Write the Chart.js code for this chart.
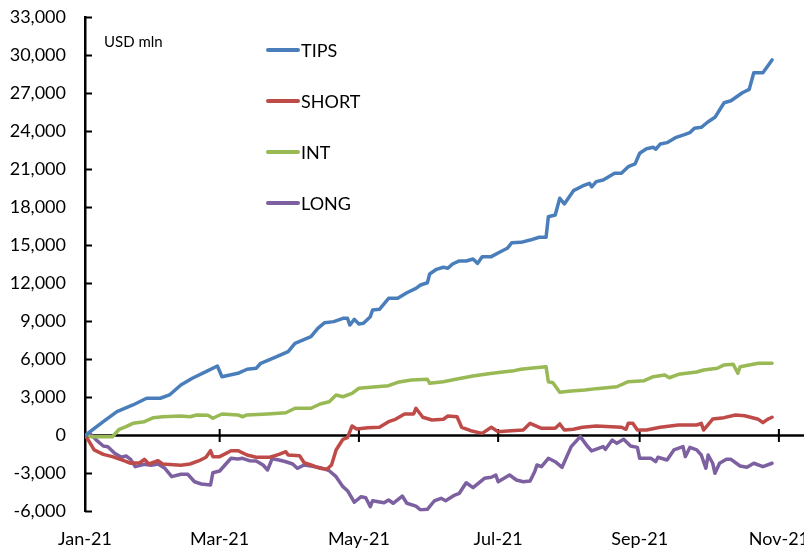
<!DOCTYPE html>
<html>
<head>
<meta charset="utf-8">
<script src="https://cdn.jsdelivr.net/npm/chart.js@4.4.1/dist/chart.umd.min.js"></script>
<style>
  html, body { margin: 0; padding: 0; background: #fff; }
  #wrap { width: 804px; height: 550px; position: relative; }
</style>
</head>
<body>
<div id="wrap"><canvas id="flowChart"></canvas></div>
<script>
// days counted from 1 Jan 2021
const tickDays = [0, 59, 120, 181, 243, 304];
const tickLabels = ['Jan-21', 'Mar-21', 'May-21', 'Jul-21', 'Sep-21', 'Nov-21'];

const tipsDays = [0, 8, 14, 21, 27, 33, 37, 42, 47, 53, 58, 60, 67, 71, 75, 77, 84, 89, 92, 99, 102, 105, 109, 113, 115, 116, 118, 120, 122, 125, 126, 129, 133, 137, 141, 145, 147, 150, 151, 154, 157, 159, 161, 164, 167, 170, 172, 174, 178, 182, 185, 187, 191, 195, 199, 202, 203, 206, 208, 210, 214, 218, 221, 222, 224, 227, 230, 232, 235, 238, 241, 243, 246, 249, 250, 252, 255, 259, 262, 265, 267, 270, 273, 276, 278, 280, 283, 288, 291, 293, 297, 301];
const tipsValues = [0, 1090, 1880, 2410, 2940, 2940, 3200, 3990, 4520, 5040, 5490, 4640, 4910, 5230, 5310, 5700, 6220, 6620, 7280, 7800, 8460, 8910, 8990, 9250, 9250, 8720, 9170, 8800, 8860, 9380, 9910, 9960, 10830, 10830, 11270, 11620, 11880, 12060, 12750, 13120, 13280, 13200, 13540, 13780, 13780, 13930, 13590, 14120, 14120, 14510, 14780, 15220, 15250, 15430, 15650, 15650, 17270, 17410, 18730, 18280, 19330, 19700, 19910, 19640, 20040, 20170, 20490, 20700, 20700, 21220, 21440, 22280, 22640, 22750, 22600, 23010, 23120, 23540, 23720, 23910, 24250, 24330, 24770, 25120, 25700, 26270, 26430, 27060, 27330, 28640, 28640, 29650];

const shortDays = [0, 1, 4, 8, 12, 17, 20, 24, 26, 28, 32, 34, 42, 46, 50, 53, 55, 56, 59, 64, 67, 71, 75, 81, 85, 88, 89, 94, 96, 99, 103, 106, 108, 110, 113, 115, 117, 119, 124, 129, 133, 136, 140, 144, 145, 148, 152, 157, 159, 163, 165, 169, 174, 178, 181, 185, 192, 195, 200, 206, 208, 210, 214, 218, 224, 235, 237, 238, 240, 242, 246, 252, 260, 268, 270, 271, 275, 280, 285, 289, 295, 297, 299, 301];
const shortValues = [0, -220, -1140, -1490, -1670, -1990, -2190, -2150, -1880, -2250, -1990, -2250, -2350, -2250, -1990, -1720, -1200, -1670, -1670, -1200, -1200, -1540, -1720, -1720, -1490, -1280, -1540, -1590, -2150, -2330, -2590, -2670, -2330, -1140, -300, -170, 750, 510, 620, 650, 1090, 1280, 1700, 1700, 2150, 1440, 1220, 1280, 1540, 1480, 650, 380, 170, 650, 300, 350, 430, 960, 570, 570, 910, 430, 490, 650, 750, 650, 490, 960, 960, 430, 430, 650, 830, 830, 960, 430, 1300, 1410, 1620, 1560, 1280, 1010, 1280, 1440];

const intDays = [0, 3, 12, 15, 18, 21, 26, 30, 34, 42, 46, 49, 54, 56, 60, 67, 69, 71, 80, 88, 92, 99, 103, 107, 110, 113, 117, 120, 125, 133, 137, 143, 150, 151, 157, 163, 170, 176, 182, 188, 191, 195, 202, 203, 205, 208, 213, 219, 224, 233, 238, 245, 249, 254, 256, 260, 268, 271, 277, 280, 284, 286, 287, 295, 301];
const intValues = [0, -100, -100, 490, 700, 960, 1090, 1410, 1480, 1540, 1480, 1620, 1590, 1360, 1700, 1620, 1480, 1620, 1700, 1800, 2150, 2150, 2490, 2670, 3200, 3060, 3330, 3730, 3800, 3930, 4200, 4380, 4440, 4120, 4250, 4460, 4700, 4860, 4990, 5120, 5230, 5310, 5430, 4250, 4170, 3410, 3510, 3590, 3700, 3850, 4250, 4330, 4640, 4780, 4560, 4830, 5010, 5170, 5310, 5570, 5620, 4910, 5430, 5700, 5700];

const longDays = [0, 2, 5, 8, 10, 13, 16, 18, 20, 22, 26, 29, 32, 35, 38, 42, 45, 48, 51, 55, 56, 59, 62, 64, 67, 69, 72, 75, 78, 80, 82, 85, 88, 91, 93, 96, 99, 103, 107, 110, 113, 115, 118, 121, 123, 125, 126, 131, 133, 135, 139, 141, 145, 147, 150, 153, 156, 158, 162, 164, 167, 170, 175, 178, 180, 181, 186, 189, 192, 195, 197, 198, 200, 203, 206, 209, 213, 217, 220, 222, 227, 228, 231, 233, 236, 239, 242, 243, 248, 250, 251, 255, 258, 262, 263, 265, 268, 270, 272, 273, 275, 276, 278, 281, 283, 287, 290, 293, 297, 301];
const longValues = [0, 170, -360, -830, -880, -1410, -1720, -1620, -1880, -2460, -2270, -2350, -2250, -2590, -3250, -3060, -3060, -3650, -3830, -3910, -2940, -2800, -2190, -1800, -1860, -1800, -1990, -2010, -2330, -2720, -1830, -1930, -2070, -2250, -2590, -2330, -2410, -2540, -2780, -3250, -4040, -4360, -5270, -4830, -4910, -5620, -5150, -5310, -5090, -5350, -4780, -5350, -5570, -5880, -5830, -5170, -4960, -5150, -4700, -4560, -3730, -4120, -3380, -3300, -3120, -3650, -3120, -3510, -3650, -3600, -2860, -2330, -2460, -1800, -2070, -2510, -880, -90, -830, -1220, -880, -1090, -360, -620, -300, -830, -940, -1800, -1800, -2070, -1720, -1930, -1140, -880, -1670, -940, -1140, -1540, -2590, -1540, -2190, -2980, -2190, -1880, -1880, -2410, -2510, -2190, -2460, -2190];

function toPoints(days, values) {
    return days.map((d, i) => ({ x: d, y: values[i] }));
}

Chart.defaults.font.family = 'Lato';
Chart.defaults.font.size = 18;
Chart.defaults.color = '#000';

const axesPlugin = {
    id: 'axesPlugin',
    beforeDatasetsDraw(chart) {
        const { ctx, chartArea, scales } = chart;
        const y0 = scales.y.getPixelForValue(0);
        ctx.save();
        ctx.strokeStyle = '#000';
        ctx.lineWidth = 2.5;
        ctx.beginPath();
        ctx.moveTo(chartArea.left, y0);
        ctx.lineTo(chartArea.right, y0);
        ctx.stroke();
        ctx.lineWidth = 2;
        ctx.beginPath();
        tickDays.forEach(d => {
            const px = scales.x.getPixelForValue(d);
            if (d === 0) return;
            ctx.moveTo(px, y0 - 6.5);
            ctx.lineTo(px, y0 + 6.5);
        });
        scales.y.ticks.forEach(t => {
            const py = scales.y.getPixelForValue(t.value);
            ctx.moveTo(chartArea.left, py);
            ctx.lineTo(chartArea.left + 7, py);
        });
        ctx.stroke();
        ctx.restore();
    }
};

const legendPlugin = {
    id: 'legendPlugin',
    afterDatasetsDraw(chart) {
        const ctx = chart.ctx;
        const rows = [50, 101, 152, 203];
        ctx.save();
        chart.data.datasets.forEach((ds, i) => {
            ctx.strokeStyle = ds.borderColor;
            ctx.lineWidth = 4;
            ctx.lineCap = 'round';
            ctx.beginPath();
            ctx.moveTo(268, rows[i]);
            ctx.lineTo(298, rows[i]);
            ctx.stroke();
            ctx.fillStyle = '#000';
            ctx.font = '18px Lato';
            ctx.textAlign = 'left';
            ctx.textBaseline = 'middle';
            ctx.fillText(ds.label, 301, rows[i] + 1);
        });
        ctx.font = '15px Lato';
        ctx.fillText('USD mln', 104, 42);
        ctx.restore();
    }
};

new Chart(document.getElementById('flowChart'), {
    type: 'line',
    data: {
        datasets: [
            { label: 'TIPS', data: toPoints(tipsDays, tipsValues), borderColor: '#4A7EBB' },
            { label: 'SHORT', data: toPoints(shortDays, shortValues), borderColor: '#BE4B48' },
            { label: 'INT', data: toPoints(intDays, intValues), borderColor: '#98B954' },
            { label: 'LONG', data: toPoints(longDays, longValues), borderColor: '#7D60A0' }
        ]
    },
    options: {
        responsive: true,
        maintainAspectRatio: false,
        animation: false,
        layout: { padding: { top: 17.5, right: 0, left: 0, bottom: 0 } },
        elements: {
            line: { borderWidth: 3.5, tension: 0, borderJoinStyle: 'round', borderCapStyle: 'round' },
            point: { radius: 0 }
        },
        plugins: {
            legend: { display: false },
            tooltip: { enabled: false }
        },
        scales: {
            x: {
                type: 'linear',
                min: 0,
                max: 315,
                grid: { display: false, drawTicks: false },
                border: { display: false },
                afterBuildTicks: scale => { scale.ticks = tickDays.map(v => ({ value: v })); },
                afterFit: scale => {
                    scale.height = 38.5;
                    scale.paddingLeft = 0;
                    scale.paddingRight = 0;
                },
                ticks: {
                    autoSkip: false,
                    maxRotation: 0,
                    padding: 17,
                    callback: (v, i) => tickLabels[i]
                }
            },
            y: {
                min: -6000,
                max: 33000,
                grid: { display: false, drawTicks: false },
                border: { display: true, color: '#000', width: 2.5 },
                afterFit: scale => {
                    scale.width = 85;
                    scale.paddingTop = 0;
                    scale.paddingBottom = 0;
                },
                ticks: {
                    stepSize: 3000,
                    padding: 19,
                    callback: v => v.toLocaleString('en-US')
                }
            }
        }
    },
    plugins: [axesPlugin, legendPlugin]
});
</script>
</body>
</html>
